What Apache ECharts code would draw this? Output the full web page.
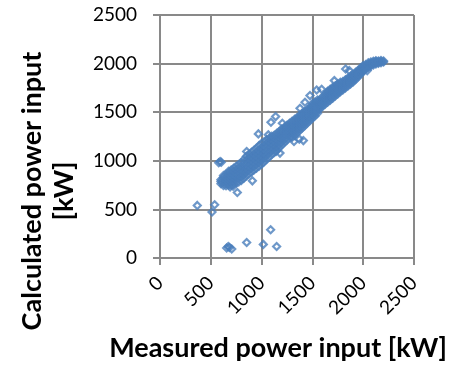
<!DOCTYPE html>
<html>
<head>
<meta charset="utf-8">
<script src="https://cdn.jsdelivr.net/npm/echarts@6/dist/echarts.min.js"></script>
<style>
html,body{margin:0;padding:0;background:#fff;}
#chart{width:459px;height:367px;}
</style>
</head>
<body>
<div id="chart"></div>
<script>
// Axis ticks
const xTicks = [0, 500, 1000, 1500, 2000, 2500];
const yTicks = [0, 500, 1000, 1500, 2000, 2500];
const xTitle = 'Measured power input [kW]';
const yTitle = 'Calculated power input\n[kW]';

// Dense band, low range (measured, calculated)
const bandLow = [
[600,765],[600,788],[600,806],
[625,746],[625,772],[625,798],[625,826],[625,848],
[650,743],[650,772],[650,801],[650,831],[650,860],
[675,748],[675,778],[675,808],[675,838],[675,868],[675,893],
[690,732],[720,738],
[700,752],[700,784],[700,815],[700,846],[700,877],[700,906],
[725,761],[725,793],[725,826],[725,859],[725,892],[725,924],
[750,771],[750,805],[750,839],[750,873],[750,908],[750,943],
[775,783],[775,818],[775,853],[775,889],[775,925],[775,961],
[800,797],[800,833],[800,869],[800,906],[800,943],[800,983],
[825,820],[825,858],[825,896],[825,934],[825,973],[825,1012],
[850,845],[850,885],[850,925],[850,965],[850,1005],[850,1045],
[875,865],[875,905],[875,945],[875,985],[875,1025],[875,1068],
[900,885],[900,925],[900,965],[900,1005],[900,1045],[900,1088],
[925,905],[925,945],[925,985],[925,1025],[925,1065],[925,1108],
[950,925],[950,965],[950,1005],[950,1045],[950,1088],[950,1132],
[975,945],[975,985],[975,1025],[975,1068],[975,1110],[975,1156]
];

// Dense band, middle range
const bandMid = [
[1000,965],[1000,1005],[1000,1048],[1000,1090],[1000,1132],[1000,1180],
[1025,990],[1025,1030],[1025,1072],[1025,1114],[1025,1155],[1025,1196],
[1050,1015],[1050,1056],[1050,1098],[1050,1138],[1050,1178],[1050,1215],
[1075,1040],[1075,1082],[1075,1122],[1075,1162],[1075,1200],[1075,1232],
[1100,1065],[1100,1106],[1100,1145],[1100,1184],[1100,1222],[1100,1252],
[1125,1085],[1125,1123],[1125,1160],[1125,1198],[1125,1235],[1125,1263],
[1150,1111],[1150,1148],[1150,1184],[1150,1221],[1150,1257],[1150,1284],
[1175,1137],[1175,1172],[1175,1208],[1175,1244],[1175,1279],[1175,1304],
[1200,1162],[1200,1197],[1200,1232],[1200,1266],[1200,1300],[1200,1326],
[1225,1188],[1225,1222],[1225,1255],[1225,1288],[1225,1321],[1225,1345],
[1250,1213],[1250,1246],[1250,1278],[1250,1310],[1250,1342],[1250,1366],
[1275,1239],[1275,1270],[1275,1301],[1275,1332],[1275,1362],[1275,1386],
[1300,1240],[1300,1264],[1300,1294],[1300,1324],[1300,1354],[1300,1383],[1300,1406],
[1325,1262],[1325,1289],[1325,1318],[1325,1347],[1325,1376],[1325,1404],[1325,1426],
[1350,1288],[1350,1314],[1350,1342],[1350,1370],[1350,1397],[1350,1424],[1350,1446],
[1375,1312],[1375,1339],[1375,1366],[1375,1392],[1375,1418],[1375,1444],[1375,1466],
[1400,1338],[1400,1364],[1400,1390],[1400,1415],[1400,1440],[1400,1465],[1400,1487],
[1425,1362],[1425,1389],[1425,1413],[1425,1438],[1425,1462],[1425,1486],[1425,1506],
[1450,1388],[1450,1414],[1450,1437],[1450,1460],[1450,1484],[1450,1506],[1450,1527],
[1475,1412],[1475,1439],[1475,1461],[1475,1483],[1475,1505],[1475,1527],[1475,1547],
[1500,1438],[1500,1464],[1500,1485],[1500,1506],[1500,1527],[1500,1548],[1500,1567],[1500,1588],
[1525,1462],[1525,1489],[1525,1509],[1525,1528],[1525,1548],[1525,1568],[1525,1587],[1525,1605],
[1550,1488],[1550,1513],[1550,1532],[1550,1551],[1550,1570],[1550,1589],[1550,1608],[1550,1625],
[1575,1537],[1575,1555],[1575,1573],[1575,1591],[1575,1609],[1575,1627]
];

// Dense band, high range
const bandHigh = [
[1600,1560],[1600,1585],[1600,1610],[1600,1635],[1600,1658],
[1625,1582],[1625,1607],[1625,1631],[1625,1655],[1625,1678],
[1650,1603],[1650,1628],[1650,1652],[1650,1676],[1650,1698],[1650,1715],
[1675,1624],[1675,1648],[1675,1672],[1675,1696],[1675,1718],[1675,1735],
[1700,1645],[1700,1668],[1700,1692],[1700,1715],[1700,1737],[1700,1755],
[1725,1667],[1725,1690],[1725,1712],[1725,1735],[1725,1757],[1725,1772],
[1750,1689],[1750,1711],[1750,1733],[1750,1755],[1750,1776],[1750,1790],
[1775,1710],[1775,1731],[1775,1752],[1775,1774],[1775,1795],[1775,1808],
[1800,1730],[1800,1751],[1800,1772],[1800,1793],[1800,1814],
[1825,1750],[1825,1771],[1825,1792],[1825,1812],[1825,1833],
[1850,1770],[1850,1791],[1850,1812],[1850,1832],[1850,1852],
[1875,1790],[1875,1811],[1875,1831],[1875,1851],[1875,1870],
[1900,1811],[1900,1831],[1900,1851],[1900,1870],[1900,1888],
[1925,1836],[1925,1856],[1925,1875],[1925,1893],[1925,1910],
[1950,1862],[1950,1880],[1950,1898],[1950,1915],[1950,1930],
[1975,1890],[1975,1907],[1975,1923],[1975,1939],[1975,1955],
[2000,1920],[2000,1936],[2000,1951],[2000,1966],[2000,1980],
[2025,1945],[2025,1960],[2025,1975],[2025,1990],
[2050,1962],[2050,1977],[2050,1992],[2050,2008],
[2075,1976],[2075,1990],[2075,2004],[2075,2017],
[2100,1987],[2100,2001],[2100,2014],[2100,2024],
[2125,1996],[2125,2009],[2125,2021],[2125,2030],
[2150,2003],[2150,2015],[2150,2026],
[2175,2010],[2175,2021],[2175,2031],
[2200,2016],[2200,2027]
];

// Scattered points away from the band
const outliers = [
[367,541],[538,548],[512,473],
[578,980],[592,992],[603,985],
[656,103],[672,118],[684,108],[706,92],[853,160],[1017,140],[1089,291],[1148,119],
[761,674],[909,794],[853,1095],[968,1277],[1066,1267],[1092,1397],[1138,1455],[1204,1387],
[1142,1095],[1181,1079],[1319,1198],[1371,1223],[1411,1208],
[1378,1541],[1427,1603],[1476,1671],[1542,1729],[1591,1736],[1716,1825],
[1827,1945],[1863,1928],[1952,1894],[2040,1928]
];

const gridColor = '#898989';
const chart = echarts.init(document.getElementById('chart'), null, {renderer: 'canvas'});
const axisCommon = {
  type: 'value',
  axisLine: {show: true, lineStyle: {color: gridColor, width: 2}},
  axisTick: {show: true, inside: false, length: 7, lineStyle: {color: gridColor, width: 2}},
  splitLine: {show: true, lineStyle: {color: gridColor, width: 2}}
};
const plain = function (v) { return String(v); };
chart.setOption({
  animation: false,
  backgroundColor: '#fff',
  grid: {left: 160, top: 15, width: 254, height: 243, containLabel: false, outerBoundsMode: 'none'},
  xAxis: Object.assign({}, axisCommon, {
    min: xTicks[0], max: xTicks[xTicks.length - 1], interval: xTicks[1] - xTicks[0],
    axisLabel: {rotate: 45, margin: 22, color: '#000', fontFamily: 'Lato', fontSize: 19,
      formatter: plain, showMinLabel: true, showMaxLabel: true}
  }),
  yAxis: Object.assign({}, axisCommon, {
    min: yTicks[0], max: yTicks[yTicks.length - 1], interval: yTicks[1] - yTicks[0],
    axisLabel: {margin: 23, color: '#000', fontFamily: 'Lato', fontSize: 19,
      formatter: plain, showMinLabel: true, showMaxLabel: true}
  }),
  series: [{
    type: 'scatter',
    data: bandLow.concat(bandMid, bandHigh, outliers),
    symbol: 'diamond',
    symbolSize: 7,
    itemStyle: {color: 'rgba(255,255,255,0)', borderColor: '#4a7ebb', borderWidth: 2.2}
  }],
  graphic: [
    {type: 'text', x: 48, y: 191, rotation: Math.PI / 2,
      style: {text: yTitle, font: 'bold 27px Lato', fill: '#000', align: 'center', verticalAlign: 'middle', lineHeight: 32}},
    {type: 'text', x: 278, y: 348,
      style: {text: xTitle, font: 'bold 27px Lato', fill: '#000', align: 'center', verticalAlign: 'middle'}}
  ]
});
</script>
</body>
</html>
